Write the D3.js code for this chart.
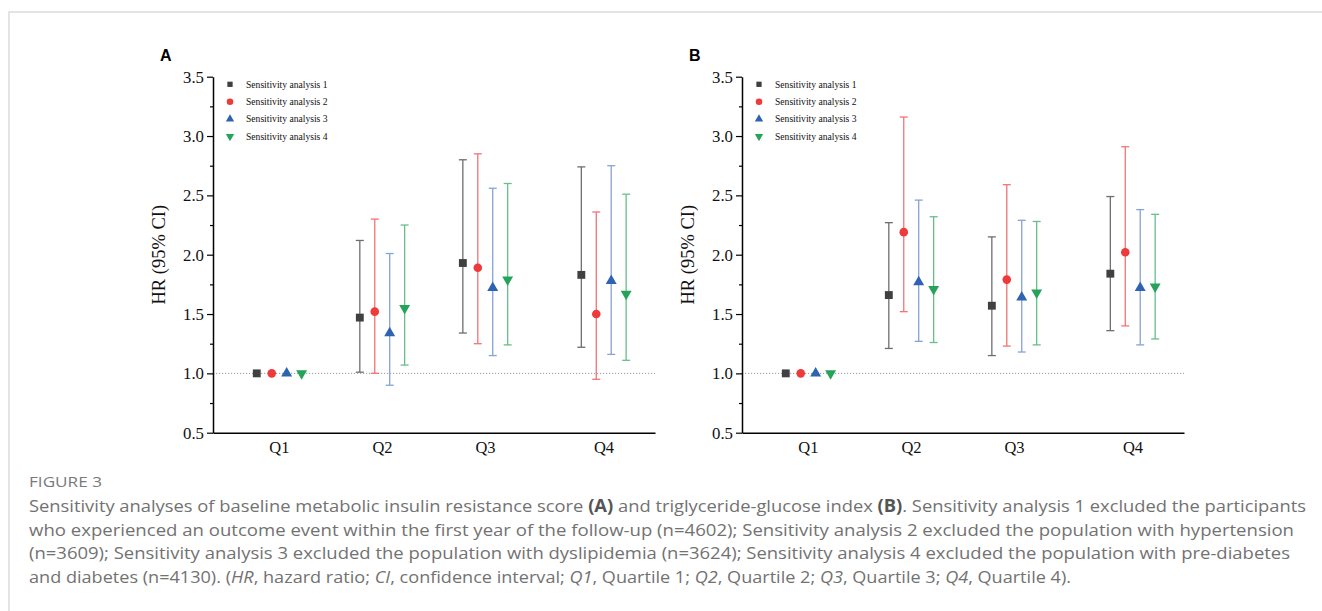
<!DOCTYPE html>
<html>
<head>
<meta charset="utf-8">
<script src="https://cdn.jsdelivr.net/npm/d3@7"></script>
<style>
  body { margin: 0; background: #fff; }
  svg { display: block; }
</style>
</head>
<body>
<div id="chart"></div>
<script>
// categories and positions along the x axis (Q4 sits a bit further out in the original)
const quartiles = ["Q1", "Q2", "Q3", "Q4"];
const quartilePos = [1, 2, 3, 4.15];
const seriesNames = ["Sensitivity analysis 1", "Sensitivity analysis 2", "Sensitivity analysis 3", "Sensitivity analysis 4"];
const yTicks = [0.5, 1.0, 1.5, 2.0, 2.5, 3.0, 3.5];

// panel A: HR, lower and upper CI, one row per sensitivity analysis, one column per quartile
const hrA   = [[1, 1.47, 1.93, 1.83], [1, 1.52, 1.89, 1.50], [1, 1.34, 1.72, 1.78], [1, 1.55, 1.79, 1.67]];
const lowA  = [[null, 1.01, 1.34, 1.22], [null, 1.00, 1.25, 0.95], [null, 0.90, 1.15, 1.16], [null, 1.07, 1.24, 1.11]];
const highA = [[null, 2.12, 2.80, 2.74], [null, 2.30, 2.85, 2.36], [null, 2.01, 2.56, 2.75], [null, 2.25, 2.60, 2.51]];

// panel B
const hrB   = [[1, 1.66, 1.57, 1.84], [1, 2.19, 1.79, 2.02], [1, 1.77, 1.64, 1.72], [1, 1.71, 1.68, 1.73]];
const lowB  = [[null, 1.21, 1.15, 1.36], [null, 1.52, 1.23, 1.40], [null, 1.27, 1.18, 1.24], [null, 1.26, 1.24, 1.29]];
const highB = [[null, 2.27, 2.15, 2.49], [null, 3.16, 2.59, 2.91], [null, 2.46, 2.29, 2.38], [null, 2.32, 2.28, 2.34]];

const markColors = ["#404040", "#ee3a3a", "#2e62b3", "#25a35a"];
const barColors  = ["#6e6e6e", "#f27474", "#86a3d6", "#66bf8a"];
const symbols = [d3.symbolSquare, d3.symbolCircle, d3.symbolTriangle, d3.symbolTriangle];
const symRotate = [0, 0, 0, 180];
const symSize = [62, 58, 52, 52];
const legSize = [28, 34, 30, 30];
const offsets = [-0.215, -0.07, 0.075, 0.22];

const W = 1322, H = 611;
const svg = d3.select("#chart").append("svg").attr("width", W).attr("height", H);

// card border
svg.append("path")
  .attr("d", `M9,${H} V12 H${W}`)
  .attr("fill", "none").attr("stroke", "#dcdcdc").attr("stroke-width", 1.5);

const plotW = 442, plotH = 356, plotTop = 76.7;
const serif = "Liberation Serif, Times New Roman, serif";

function drawPanel(left, letter, hr, low, high) {
  const g = svg.append("g").attr("transform", `translate(${left},${plotTop})`);
  const x = d3.scaleLinear().domain([0.36, 4.65]).range([0, plotW]);
  const y = d3.scaleLinear().domain([0.5, 3.5]).range([plotH, 0]);

  svg.append("text")
    .attr("x", left - 53).attr("y", 61)
    .attr("font-family", "Liberation Sans, Arial, sans-serif")
    .attr("font-weight", "bold").attr("font-size", 16)
    .text(letter);

  // reference line at HR = 1
  g.append("line")
    .attr("x1", 0).attr("x2", plotW)
    .attr("y1", y(1)).attr("y2", y(1))
    .attr("stroke", "#9a9a9a").attr("stroke-width", 1)
    .attr("stroke-dasharray", "1.2,1.8");

  // minor ticks
  g.append("g")
    .call(d3.axisLeft(y).tickValues(d3.range(0.75, 3.5, 0.5)).tickSize(3).tickFormat(""))
    .call(a => a.select(".domain").remove())
    .call(a => a.selectAll("line").attr("stroke-width", 1.2));

  // y axis
  g.append("g")
    .call(d3.axisLeft(y).tickValues(yTicks).tickSize(6).tickSizeOuter(0).tickPadding(3).tickFormat(d3.format(".1f")))
    .call(a => a.select(".domain").attr("stroke-width", 1.5))
    .call(a => a.selectAll("line").attr("stroke-width", 1.2))
    .call(a => a.selectAll("text")
      .attr("font-family", serif)
      .attr("font-size", 16.8).attr("fill", "#111"));

  // x axis
  g.append("g")
    .attr("transform", `translate(0,${plotH})`)
    .call(d3.axisBottom(x).tickValues(quartilePos).tickSize(0).tickSizeOuter(0).tickPadding(9)
      .tickFormat((d, i) => quartiles[i]))
    .call(a => a.select(".domain").attr("stroke-width", 1.5))
    .call(a => a.selectAll("text")
      .attr("font-family", serif)
      .attr("font-size", 16.5).attr("fill", "#111"));

  g.append("text")
    .attr("transform", `translate(-48,${plotH / 2}) rotate(-90)`)
    .attr("text-anchor", "middle")
    .attr("font-family", serif)
    .attr("font-size", 18.5).attr("fill", "#111")
    .text("HR (95% CI)");

  seriesNames.forEach((name, s) => {
    const pts = quartilePos.map((p, i) => ({ cx: x(p + offsets[s]), hr: hr[s][i], lo: low[s][i], hi: high[s][i] }));
    const sg = g.append("g");
    const bars = pts.filter(d => d.lo != null);

    sg.selectAll("line.bar").data(bars).join("line")
      .attr("x1", d => d.cx).attr("x2", d => d.cx)
      .attr("y1", d => y(d.lo)).attr("y2", d => y(d.hi))
      .attr("stroke", barColors[s]).attr("stroke-width", 1.3);
    ["lo", "hi"].forEach(k => {
      sg.selectAll("line.cap" + k).data(bars).join("line")
        .attr("x1", d => d.cx - 4).attr("x2", d => d.cx + 4)
        .attr("y1", d => y(d[k])).attr("y2", d => y(d[k]))
        .attr("stroke", barColors[s]).attr("stroke-width", 1.3);
    });

    sg.selectAll("path.mark").data(pts).join("path")
      .attr("d", d3.symbol(symbols[s], symSize[s]))
      .attr("transform", d => `translate(${d.cx},${y(d.hr)}) rotate(${symRotate[s]})`)
      .attr("fill", markColors[s]);

    // legend
    const ly = 7.6 + s * 17.4;
    g.append("path")
      .attr("d", d3.symbol(symbols[s], legSize[s]))
      .attr("transform", `translate(17,${ly}) rotate(${symRotate[s]})`)
      .attr("fill", markColors[s]);
    g.append("text")
      .attr("x", 33).attr("y", ly).attr("dy", "0.35em")
      .attr("font-family", serif)
      .attr("font-size", 9.6).attr("fill", "#111")
      .text(name);
  });
}

drawPanel(213, "A", hrA, lowA, highA);
drawPanel(742, "B", hrB, lowB, highB);

// caption
const capFont = "Open Sans, Lato, sans-serif";
svg.append("text")
  .attr("x", 29).attr("y", 487)
  .attr("font-family", capFont).attr("font-size", 15).attr("fill", "#7a7a7a")
  .attr("textLength", 73).attr("lengthAdjust", "spacingAndGlyphs")
  .text("FIGURE 3");

const captionLines = [
  [["Sensitivity analyses of baseline metabolic insulin resistance score ", ""], ["(A)", "b"], [" and triglyceride-glucose index ", ""], ["(B)", "b"], [". Sensitivity analysis 1 excluded the participants", ""]],
  [["who experienced an outcome event within the first year of the follow-up (n=4602); Sensitivity analysis 2 excluded the population with hypertension", ""]],
  [["(n=3609); Sensitivity analysis 3 excluded the population with dyslipidemia (n=3624); Sensitivity analysis 4 excluded the population with pre-diabetes", ""]],
  [["and diabetes (n=4130). (", ""], ["HR", "i"], [", hazard ratio; ", ""], ["CI", "i"], [", confidence interval; ", ""], ["Q1", "i"], [", Quartile 1; ", ""],
   ["Q2", "i"], [", Quartile 2; ", ""], ["Q3", "i"], [", Quartile 3; ", ""], ["Q4", "i"], [", Quartile 4).", ""]]
];
const captionWidths = [1277, 1265, 1261, 1042];

captionLines.forEach((parts, li) => {
  const t = svg.append("text")
    .attr("x", 29).attr("y", 512 + li * 23.5)
    .attr("font-family", capFont).attr("font-size", 17).attr("fill", "#727272")
    .attr("textLength", captionWidths[li]).attr("lengthAdjust", "spacingAndGlyphs")
    .style("white-space", "pre");
  parts.forEach(([str, st]) => {
    t.append("tspan")
      .attr("font-weight", st === "b" ? "bold" : null)
      .attr("fill", st === "b" ? "#555" : null)
      .attr("font-style", st === "i" ? "italic" : null)
      .text(str);
  });
});
</script>
</body>
</html>
